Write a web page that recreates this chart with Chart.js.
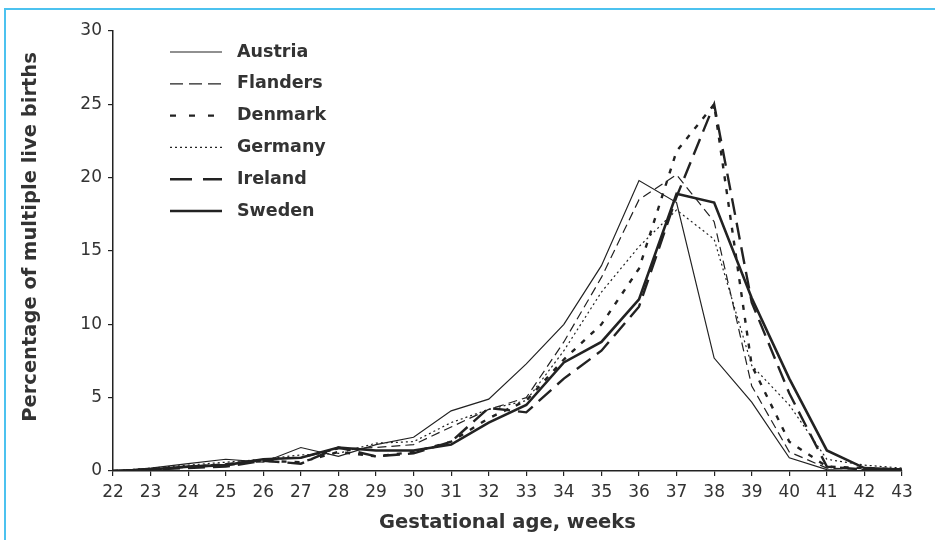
<script src="https://cdn.jsdelivr.net/npm/chart.js"></script>
<style>
    html, body { margin: 0; background: #fff; overflow: hidden; }
    #wrap { position: relative; width: 935px; height: 540px; overflow: hidden; }
    #frame { position: absolute; left: 4px; top: 8px; width: 960px; height: 560px;
             border-top: 2px solid #4cc2ef; border-left: 2px solid #4cc2ef; pointer-events: none; }
</style>
<div id="wrap">
    <canvas id="lineChart"></canvas>
    <div id="frame"></div>
</div>

<script>
    const weeks = ['22', '23', '24', '25', '26', '27', '28', '29', '30', '31', '32',
                   '33', '34', '35', '36', '37', '38', '39', '40', '41', '42', '43'];

    const austria  = [0, 0.2, 0.5, 0.8, 0.6, 1.6, 1.0, 1.8, 2.3, 4.1, 4.9, 7.3, 10.0, 14.0, 19.8, 18.3, 7.7, 4.7, 0.9, 0.1, 0, 0];
    const flanders = [0, 0.1, 0.3, 0.5, 0.8, 0.9, 1.5, 1.6, 1.8, 3.0, 4.2, 5.0, 8.8, 13.2, 18.5, 20.2, 17.0, 5.8, 1.3, 0.2, 0.1, 0];
    const denmark  = [0, 0.1, 0.3, 0.4, 0.7, 0.6, 1.3, 1.0, 1.3, 2.0, 3.6, 4.8, 7.6, 10.0, 13.8, 21.8, 25.0, 7.2, 2.0, 0.3, 0.2, 0.1];
    const germany  = [0, 0.2, 0.4, 0.6, 0.8, 1.1, 1.2, 1.9, 2.0, 3.3, 4.2, 4.8, 8.2, 12.2, 15.3, 17.8, 15.8, 7.2, 4.5, 0.8, 0.4, 0.2];
    const ireland  = [0, 0.1, 0.2, 0.3, 0.7, 0.5, 1.6, 1.0, 1.2, 2.0, 4.3, 4.0, 6.3, 8.2, 11.2, 18.7, 25.0, 11.5, 5.3, 0.3, 0.1, 0];
    const sweden   = [0, 0.1, 0.3, 0.4, 0.8, 0.9, 1.6, 1.4, 1.4, 1.8, 3.3, 4.5, 7.4, 8.8, 11.7, 18.9, 18.3, 11.8, 6.3, 1.4, 0.2, 0.1];

    const yTicks = [0, 5, 10, 15, 20, 25, 30];

    const ink = '#222';
    const textColor = '#333';
    const font = 'DejaVu Sans';

    function series(label, data, width, dash) {
        return {
            label: label,
            data: data,
            borderColor: ink,
            borderWidth: width,
            borderDash: dash,
            pointRadius: 0,
            tension: 0,
            fill: false
        };
    }

    // legend and y title drawn by hand, placed like the printed figure
    const figureText = {
        id: 'figureText',
        afterDraw(chart) {
            const ctx = chart.ctx;
            ctx.save();
            chart.data.datasets.forEach((ds, i) => {
                const y = 52 + i * 31.8;
                ctx.strokeStyle = ink;
                ctx.lineWidth = ds.borderWidth;
                ctx.setLineDash(ds.legendDash || ds.borderDash);
                ctx.beginPath();
                ctx.moveTo(170, y);
                ctx.lineTo(222, y);
                ctx.stroke();
                ctx.setLineDash([]);
                ctx.fillStyle = textColor;
                ctx.font = 'bold 17.5px "' + font + '"';
                ctx.textAlign = 'left';
                ctx.textBaseline = 'middle';
                ctx.fillText(ds.label, 237, y);
            });

            ctx.translate(31, 237);
            ctx.rotate(-Math.PI / 2);
            ctx.textAlign = 'center';
            ctx.textBaseline = 'middle';
            ctx.font = 'bold 19.5px "' + font + '"';
            ctx.fillText('Percentage of multiple live births', 0, 0);
            ctx.restore();
        }
    };

    const datasets = [
        series('Austria', austria, 1.2, []),
        series('Flanders', flanders, 1.2, [9, 5]),
        series('Denmark', denmark, 2.4, [5, 8]),
        series('Germany', germany, 1.2, [2, 3]),
        series('Ireland', ireland, 2.4, [17, 8]),
        series('Sweden', sweden, 2.6, [])
    ];
    datasets[1].legendDash = [13, 6];
    datasets[2].legendDash = [6, 13];
    datasets[4].legendDash = [22, 11];

    let ctx = document.getElementById('lineChart').getContext('2d');

    new Chart(ctx, {
        type: 'line',
        data: { labels: weeks, datasets: datasets },
        options: {
            responsive: true,
            maintainAspectRatio: false,
            animation: false,
            layout: { padding: { left: 0, right: 33, top: 31, bottom: 0 } },
            plugins: {
                legend: { display: false },
                tooltip: { enabled: false }
            },
            scales: {
                x: {
                    offset: false,
                    grid: { drawOnChartArea: false, drawTicks: true, tickLength: 5, color: ink, lineWidth: 1.2 },
                    border: { color: ink, width: 1.5 },
                    ticks: { color: textColor, font: { family: font, size: 17 }, padding: 6, maxRotation: 0, autoSkip: false },
                    title: {
                        display: true,
                        text: 'Gestational age, weeks',
                        color: textColor,
                        font: { family: font, size: 19.5, weight: 'bold' },
                        padding: { top: 0, bottom: 5 }
                    },
                    afterFit(scale) { scale.height = 69; }
                },
                y: {
                    min: 0,
                    max: 30,
                    afterBuildTicks(scale) { scale.ticks = yTicks.map(v => ({ value: v })); },
                    grid: { drawOnChartArea: false, drawTicks: true, tickLength: 5, color: ink, lineWidth: 1.2 },
                    border: { color: ink, width: 1.5 },
                    ticks: { color: textColor, font: { family: font, size: 17 }, padding: 6 },
                    afterFit(scale) { scale.width = 113; }
                }
            }
        },
        plugins: [figureText]
    });
</script>
